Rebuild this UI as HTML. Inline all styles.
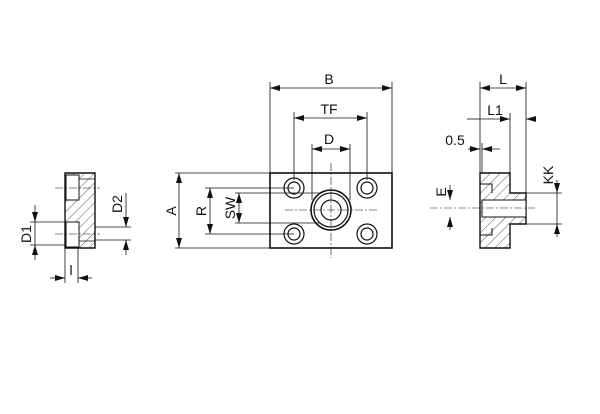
<!DOCTYPE html>
<html><head><style>body{margin:0;background:#fff}svg{display:block}text{font-family:"Liberation Sans",sans-serif;font-size:14px;fill:#111}</style></head><body>
<svg width="600" height="414" viewBox="0 0 600 414" xmlns="http://www.w3.org/2000/svg">
<defs>
<marker id="a" viewBox="0 0 10 6" refX="10" refY="3" markerWidth="10" markerHeight="6" orient="auto-start-reverse" markerUnits="userSpaceOnUse"><path d="M0,0L10,3L0,6z" fill="#111"/></marker>
<pattern id="h" width="7" height="7" patternUnits="userSpaceOnUse" patternTransform="rotate(45)"><line x1="0" y1="0" x2="0" y2="7" stroke="#333" stroke-width="0.8"/></pattern>
</defs>
<g stroke="#111" stroke-width="0.8" fill="none">
<!-- Main view -->
<line x1="270" y1="173" x2="270" y2="82"/><line x1="392" y1="173" x2="392" y2="82"/>
<line x1="270" y1="88" x2="392" y2="88" marker-start="url(#a)" marker-end="url(#a)"/>
<line x1="294" y1="180" x2="294" y2="112"/><line x1="367" y1="180" x2="367" y2="112"/>
<line x1="294" y1="118" x2="367" y2="118" marker-start="url(#a)" marker-end="url(#a)"/>
<line x1="312" y1="200" x2="312" y2="144"/><line x1="350" y1="200" x2="350" y2="144"/>
<line x1="312" y1="149" x2="350" y2="149" marker-start="url(#a)" marker-end="url(#a)"/>
<line x1="175" y1="173" x2="270" y2="173"/><line x1="175" y1="248" x2="270" y2="248"/>
<line x1="179" y1="173" x2="179" y2="248" marker-start="url(#a)" marker-end="url(#a)"/>
<line x1="205" y1="188" x2="294" y2="188"/><line x1="205" y1="234" x2="294" y2="234"/>
<line x1="210" y1="188" x2="210" y2="234" marker-start="url(#a)" marker-end="url(#a)"/>
<line x1="235" y1="193" x2="320" y2="193"/><line x1="235" y1="223" x2="320" y2="223"/>
<line x1="239" y1="193" x2="239" y2="223" marker-start="url(#a)" marker-end="url(#a)"/>
<rect x="270" y="173" width="122" height="75" stroke-width="1.6"/>
<g stroke-width="1.2">
<circle cx="294" cy="188" r="10"/><circle cx="294" cy="188" r="6"/>
<circle cx="367" cy="188" r="10"/><circle cx="367" cy="188" r="6"/>
<circle cx="294" cy="234" r="10"/><circle cx="294" cy="234" r="6"/>
<circle cx="367" cy="234" r="10"/><circle cx="367" cy="234" r="6"/>
<circle cx="331" cy="210" r="20" stroke-width="1.6"/><circle cx="331" cy="210" r="17"/><circle cx="331" cy="210" r="10"/>
</g>
<line x1="331" y1="163" x2="331" y2="258" stroke-dasharray="8,2,2,2" stroke-width="0.6"/>
<line x1="285" y1="210" x2="378" y2="210" stroke-dasharray="8,2,2,2" stroke-width="0.6"/>
<!-- Right view -->
<line x1="480" y1="173" x2="480" y2="82"/><line x1="526" y1="193" x2="526" y2="82"/>
<line x1="480" y1="88" x2="526" y2="88" marker-start="url(#a)" marker-end="url(#a)"/>
<line x1="510" y1="173" x2="510" y2="113"/>
<line x1="467" y1="119" x2="480" y2="119"/><line x1="480" y1="119" x2="510" y2="119" marker-end="url(#a)"/>
<line x1="536" y1="119" x2="526" y2="119" marker-end="url(#a)"/>
<line x1="468" y1="149" x2="480" y2="149" marker-end="url(#a)"/><line x1="500" y1="149" x2="482" y2="149" marker-end="url(#a)"/>
<line x1="482" y1="173" x2="482" y2="143"/>
<path d="M480,173H510V193H526V224H510V248H480Z" fill="url(#h)" stroke-width="1.4"/>
<rect x="482" y="200" width="44" height="17" fill="#fff" stroke-width="1"/>
<path d="M480,184H492V193M480,235H492V228" stroke-width="1"/>
<line x1="526" y1="193" x2="562" y2="193"/><line x1="526" y1="224" x2="562" y2="224"/>
<line x1="557" y1="180" x2="557" y2="193" marker-end="url(#a)"/><line x1="557" y1="237" x2="557" y2="224" marker-end="url(#a)"/>
<line x1="557" y1="193" x2="557" y2="224"/>
<line x1="450" y1="185" x2="450" y2="200" marker-end="url(#a)"/><line x1="450" y1="230" x2="450" y2="217" marker-end="url(#a)"/>
<line x1="430" y1="208" x2="535" y2="208" stroke-dasharray="8,2,2,2" stroke-width="0.6"/>
<!-- Left view -->
<path d="M65,173H95V248H65Z" fill="url(#h)" stroke-width="1.4"/>
<rect x="66" y="175" width="13" height="25" fill="#fff" stroke-width="1"/>
<rect x="66" y="222" width="13" height="25" fill="#fff" stroke-width="1"/>
<path d="M79,179H95M79,241H95" stroke-width="0.8"/>
<line x1="55" y1="188" x2="100" y2="188" stroke-dasharray="8,2,2,2" stroke-width="0.6"/>
<line x1="55" y1="234" x2="100" y2="234" stroke-dasharray="8,2,2,2" stroke-width="0.6"/>
<line x1="30" y1="222" x2="65" y2="222"/><line x1="30" y1="245" x2="65" y2="245"/>
<line x1="35" y1="205" x2="35" y2="222" marker-end="url(#a)"/><line x1="35" y1="260" x2="35" y2="245" marker-end="url(#a)"/>
<line x1="35" y1="222" x2="35" y2="245"/>
<line x1="95" y1="227" x2="131" y2="227"/><line x1="95" y1="240" x2="131" y2="240"/>
<line x1="126" y1="193" x2="126" y2="227" marker-end="url(#a)"/><line x1="126" y1="255" x2="126" y2="240" marker-end="url(#a)"/>
<line x1="65" y1="248" x2="65" y2="283"/><line x1="78" y1="248" x2="78" y2="283"/>
<line x1="50" y1="278" x2="65" y2="278" marker-end="url(#a)"/><line x1="92" y1="278" x2="78" y2="278" marker-end="url(#a)"/>
</g>
<text x="329" y="84" text-anchor="middle">B</text>
<text x="329" y="114" text-anchor="middle">TF</text>
<text x="329" y="144" text-anchor="middle">D</text>
<text x="503" y="84" text-anchor="middle">L</text>
<text x="495" y="115" text-anchor="middle">L1</text>
<text x="455" y="145" text-anchor="middle">0.5</text>
<text transform="translate(176,211) rotate(-90)" text-anchor="middle">A</text>
<text transform="translate(206,211) rotate(-90)" text-anchor="middle">R</text>
<text transform="translate(235,208) rotate(-90)" text-anchor="middle">SW</text>
<text transform="translate(446,192) rotate(-90)" text-anchor="middle">E</text>
<text transform="translate(553,175) rotate(-90)" text-anchor="middle">KK</text>
<text transform="translate(31,234) rotate(-90)" text-anchor="middle">D1</text>
<text transform="translate(122,204) rotate(-90)" text-anchor="middle">D2</text>
<text x="71" y="275" text-anchor="middle">l</text>
</svg>
</body></html>
